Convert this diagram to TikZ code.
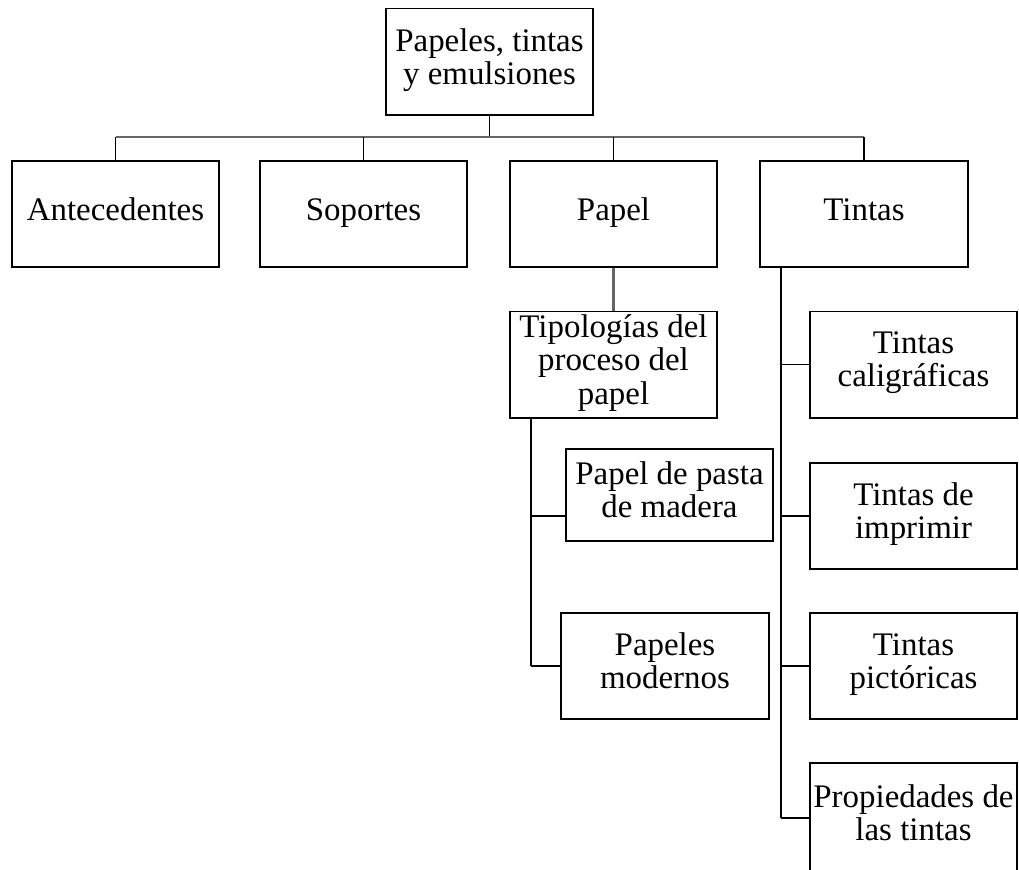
\documentclass[tikz,border=0pt]{standalone}
\usepackage{fontspec}
\setmainfont{Liberation Serif}
\usetikzlibrary{positioning}
\tikzset{
    mybox/.style = {rectangle, draw=black, line width=1.4pt, minimum width=5.175cm, minimum height=2.65cm, inner sep=0pt, align=center, font=\fontsize{23.4}{23.5}\selectfont, execute at begin node=\strut, execute at end node=\strut},
    mylink/.style = {draw=black, line width=1.3pt},
    mylinkg/.style = {draw=black!60, line width=2pt},
}
\begin{document}
\begin{tikzpicture}[x=0.025cm,y=-0.025cm]
\useasboundingbox (0,0) rectangle (1019,869);
\clip (0,0) rectangle (1019,869);
%
\node[mybox] at (489.5,61.5) (root) {Papeles, tintas\\y emulsiones};
\node[mybox] at (115.5,214) (ante) {Antecedentes};
\node[mybox] at (363.5,214) (sop) {Soportes};
\node[mybox] at (613.5,214) (papel) {Papel};
\node[mybox] at (864,214) (tintas) {Tintas};
%
\node[mybox] at (613.5,364.5) (tipo) {Tipolog\'ias del\\proceso del\\papel};
\node[mybox,minimum height=2.3cm] at (669.5,495) (pasta) {Papel de pasta\\de madera};
\node[mybox] at (665,666) (modern) {Papeles\\modernos};
%
\node[mybox] at (913.5,364.5) (cali) {Tintas\\caligr\'aficas};
\node[mybox] at (913.5,516) (impr) {Tintas de\\imprimir};
\node[mybox] at (913.5,666) (pict) {Tintas\\pict\'oricas};
\node[mybox,minimum height=2.75cm] at (913.5,818) (prop) {Propiedades de\\las tintas};
%
\coordinate (bus) at (488,137);
\coordinate (tspine) at (781,0);
\coordinate (pspine) at (531,0);
%
\draw[mylink] (root.south) -- (root.south |- bus);
\draw[mylinkg] (ante.north |- bus) -- (tintas.north |- bus);
\foreach \n in {ante,sop,papel,tintas}
    \draw[mylink] (\n.north) -- (\n.north |- bus);
\draw[mylinkg] (papel.south) -- (tipo.north);
%
\draw[mylink] (pspine |- tipo.south) -- (pspine |- modern.west);
\draw[mylink] (pspine |- impr.west) -- (pasta.west |- impr.west);
\draw[mylink] (pspine |- modern.west) -- (modern.west);
%
\draw[mylink] (tspine |- tintas.south) -- (tspine |- prop.west);
\foreach \n in {cali,impr,pict,prop}
    \draw[mylink] (tspine |- \n.west) -- (\n.west);

\end{tikzpicture}
\end{document}
